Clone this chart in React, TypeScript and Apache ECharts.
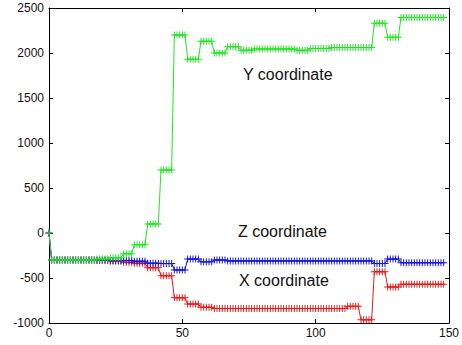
import React, { useEffect, useRef } from "react";
import * as echarts from "echarts";

// Per-frame position readings (frame index = array index)
const xCoordinate: number[] = [
  0,
  -300, -300, -300, -300, -300, -300, -300, -300, -300, -300, -300, -300, -300, -300, -300, -300, -300,
  -305, -305, -305, -305, -305,
  -315, -315, -315, -315, -315,
  -325, -325, -325, -325,
  -335, -335, -335, -335, -335,
  -385, -385, -385, -385, -385,
  -475, -475, -475, -475, -475,
  -720, -720, -720, -720, -720,
  -790, -790, -790, -790, -790,
  -825, -825, -825, -825, -825,
  -840, -840, -840, -840, -840, -840, -840, -840, -840, -840,
  -840, -840, -840, -840, -840, -840, -840, -840, -840, -840,
  -840, -840, -840, -840, -840, -840, -840, -840, -840, -840,
  -840, -840, -840, -840, -840, -840, -840, -840, -840, -840,
  -840, -840, -840, -840, -840, -840, -840, -840, -840, -840,
  -815, -815, -815, -815, -815,
  -965, -965, -965, -965, -965,
  -430, -430, -430, -430, -430,
  -600, -600, -600, -600, -600,
  -570, -570, -570, -570, -570, -570, -570, -570, -570, -570, -570, -570, -570, -570, -570, -570, -570,
];

const yCoordinate: number[] = [
  0,
  -300, -300, -300, -300, -300, -300, -300, -300, -300, -300, -300, -300, -300, -300, -300, -300, -300,
  -290, -290, -290, -290, -290,
  -275, -275, -275, -275, -275,
  -230, -230, -230, -230,
  -130, -130, -130, -130, -130,
  100, 100, 100, 100, 100,
  700, 700, 700, 700, 700,
  2200, 2200, 2200, 2200, 2200,
  1930, 1930, 1930, 1930, 1930,
  2130, 2130, 2130, 2130, 2130,
  2000, 2000, 2000, 2000, 2000,
  2070, 2070, 2070, 2070, 2070,
  2030, 2030, 2030, 2030, 2030,
  2045, 2045, 2045, 2045, 2045, 2045, 2045, 2045, 2045, 2045, 2045, 2045, 2045, 2045, 2045, 2045,
  2030, 2030, 2030, 2030, 2030,
  2050, 2050, 2050, 2050, 2050, 2050, 2050, 2050,
  2060, 2060, 2060, 2060, 2060, 2060, 2060, 2060, 2060, 2060, 2060, 2060, 2060, 2060, 2060, 2060,
  2330, 2330, 2330, 2330, 2330,
  2175, 2175, 2175, 2175, 2175,
  2395, 2395, 2395, 2395, 2395, 2395, 2395, 2395, 2395, 2395, 2395, 2395, 2395, 2395, 2395, 2395, 2395,
];

const zCoordinate: number[] = [
  0,
  -300, -300, -300, -300, -300, -300, -300, -300, -300, -300, -300, -300, -300, -300, -300, -300, -300,
  -300, -300, -300, -300, -300,
  -305, -305, -305, -305, -305,
  -305, -305, -305, -305,
  -315, -315, -315, -315, -315,
  -335, -335, -335, -335, -335,
  -340, -340, -340, -340, -340,
  -410, -410, -410, -410, -410,
  -290, -290, -290, -290, -290,
  -320, -320, -320, -320, -320,
  -300, -300, -300, -300, -300,
  -310, -310, -310, -310, -310,
  -310, -310, -310, -310, -310, -310, -310, -310, -310, -310,
  -310, -310, -310, -310, -310, -310, -310, -310, -310, -310,
  -310, -310, -310, -310, -310, -310, -310, -310, -310, -310,
  -310, -310, -310, -310, -310, -310, -310, -310, -310, -310,
  -310, -310, -310, -310, -310, -310, -310, -310, -310, -310,
  -340, -340, -340, -340, -340,
  -290, -290, -290, -290, -290,
  -330, -330, -330, -330, -330, -330, -330, -330, -330, -330, -330, -330, -330, -330, -330, -330, -330,
];

const xTicks = { min: 0, max: 150, step: 50 };
const yTicks = { min: -1000, max: 2500, step: 500 };

const seriesLabels = [
  { text: "Y coordinate", left: 243, top: 66 },
  { text: "Z coordinate", left: 238, top: 223 },
  { text: "X coordinate", left: 239, top: 272 },
];

const FONT = '"Liberation Sans", Arial, sans-serif';
const PLUS = "path://M0,4.3H10V5.7H0Z M4.3,0H5.7V10H4.3Z";

const toPairs = (values: number[]) => values.map((v, i) => [i, v]);

const lineSeries = (name: string, values: number[], color: string) => ({
  name,
  type: "line",
  data: toPairs(values),
  symbol: PLUS,
  symbolSize: 7,
  showAllSymbol: true,
  silent: true,
  lineStyle: { color, width: 1 },
  itemStyle: { color },
  emphasis: { disabled: true },
});

const axisCommon = {
  type: "value",
  axisLine: { show: true, onZero: false, lineStyle: { color: "#000", width: 1 } },
  axisTick: { show: true, inside: true, length: 4, lineStyle: { color: "#000" } },
  splitLine: { show: false },
};

const plainNumber = (v: number) => String(v);

export default function App() {
  const ref = useRef<HTMLDivElement>(null);

  useEffect(() => {
    document.body.style.margin = "0";
    if (!ref.current) return;
    const chart = echarts.init(ref.current, undefined, { renderer: "svg" });
    chart.setOption({
      animation: false,
      backgroundColor: "#fff",
      grid: { left: 49, right: 12, top: 8, bottom: 22 },
      xAxis: [
        {
          ...axisCommon,
          position: "bottom",
          min: xTicks.min,
          max: xTicks.max,
          interval: xTicks.step,
          axisLabel: { color: "#111", fontSize: 12, fontFamily: FONT, margin: 4, formatter: plainNumber },
        },
        {
          ...axisCommon,
          position: "top",
          min: xTicks.min,
          max: xTicks.max,
          interval: xTicks.step,
          axisLabel: { show: false },
        },
      ],
      yAxis: [
        {
          ...axisCommon,
          position: "left",
          min: yTicks.min,
          max: yTicks.max,
          interval: yTicks.step,
          axisLabel: { color: "#111", fontSize: 12, fontFamily: FONT, margin: 5, formatter: plainNumber },
        },
        {
          ...axisCommon,
          position: "right",
          min: yTicks.min,
          max: yTicks.max,
          interval: yTicks.step,
          axisLabel: { show: false },
        },
      ],
      series: [
        lineSeries("X coordinate", xCoordinate, "#e81c1c"),
        lineSeries("Z coordinate", zCoordinate, "#1414e6"),
        lineSeries("Y coordinate", yCoordinate, "#22e622"),
      ],
      graphic: seriesLabels.map((l) => ({
        type: "text",
        left: l.left,
        top: l.top,
        silent: true,
        style: { text: l.text, font: `16px ${FONT}`, fill: "#111" },
      })),
    });
    return () => chart.dispose();
  }, []);

  return <div ref={ref} style={{ width: 462, height: 345 }} />;
}
